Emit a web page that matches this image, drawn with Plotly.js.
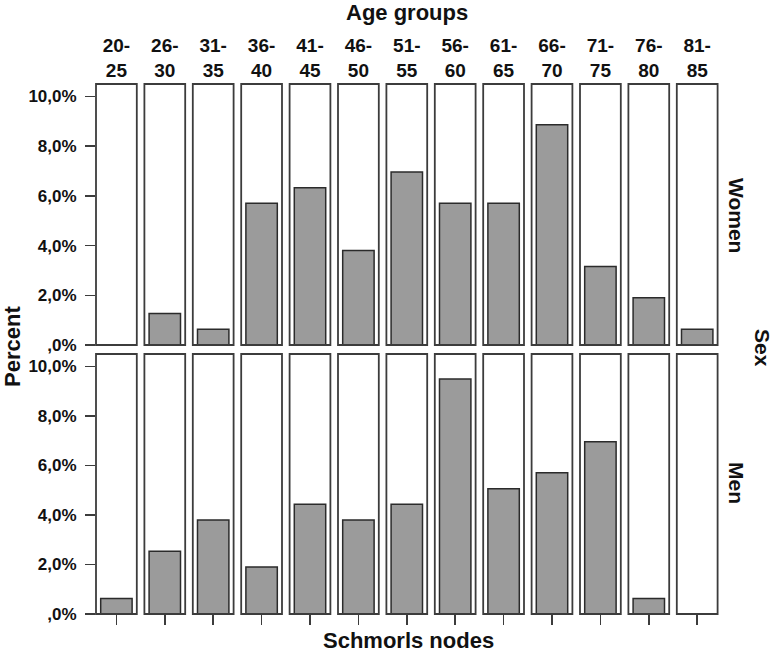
<!DOCTYPE html>
<html>
<head>
<meta charset="utf-8">
<script src="https://cdn.plot.ly/plotly-3.0.1.min.js"></script>
<style>html,body{margin:0;padding:0;background:#fff;}#chart{width:776px;height:654px;}</style>
</head>
<body>
<div id="chart"></div>
<script>
// ---- data ----
const ageGroups = ['20-25','26-30','31-35','36-40','41-45','46-50','51-55','56-60','61-65','66-70','71-75','76-80','81-85'];
const womenPct = [0, 1.27, 0.63, 5.70, 6.33, 3.80, 6.96, 5.70, 5.70, 8.86, 3.16, 1.90, 0.63];
const menPct   = [0.63, 2.53, 3.80, 1.90, 4.43, 3.80, 4.43, 9.49, 5.06, 5.70, 6.96, 0.63, 0];
const rowNames = ['Women', 'Men'];
const yTickVals = [0, 2, 4, 6, 8, 10];
const yTickText = [',0%', '2,0%', '4,0%', '6,0%', '8,0%', '10,0%'];

// ---- layout helpers ----
const W = 776, H = 654;
const M = {l: 96, r: 58, t: 84, b: 40};
const PW = W - M.l - M.r, PH = H - M.t - M.b;
const pitch = 48.4 / PW, panelW = 40.8 / PW;
const py = p => (H - M.b - p) / PH;           // pixel y -> paper y
const px = p => (p - M.l) / PW;               // pixel x -> paper x
const topDomain = [py(345), 1];
const botDomain = [0, py(354)];

const FONT = 'Liberation Sans, Arial, sans-serif';
const BAR_FILL = '#9b9b9b', BAR_LINE = '#2b2b2b', FRAME = '#3c3c3c';

const rows = [womenPct, menPct];
const traces = [];
const layout = {
  width: W, height: H,
  margin: M,
  paper_bgcolor: '#fff', plot_bgcolor: '#fff',
  showlegend: false,
  bargap: 0.23,
  font: {family: FONT, color: '#111', size: 15, weight: 'bold'},
  shapes: [], annotations: []
};

rows.forEach((vals, r) => {
  const yName = r === 0 ? 'y' : 'y2';
  const yKey = r === 0 ? 'yaxis' : 'yaxis2';
  ageGroups.forEach((age, i) => {
    const n = r * 13 + i + 1;
    const xName = n === 1 ? 'x' : 'x' + n;
    const xKey = n === 1 ? 'xaxis' : 'xaxis' + n;
    const label = age.replace('-', '-<br>');
    traces.push({
      type: 'bar', x: [label], y: [vals[i]],
      xaxis: xName, yaxis: yName,
      marker: {color: BAR_FILL, line: {color: BAR_LINE, width: 1.5}},
      hoverinfo: 'skip'
    });
    const d0 = i * pitch;
    layout[xKey] = {
      domain: [d0, d0 + panelW],
      anchor: yName,
      type: 'category',
      range: [-0.5, 0.5],
      showgrid: false, zeroline: false, showline: false,
      fixedrange: true,
      side: r === 0 ? 'top' : 'bottom',
      showticklabels: r === 0,
      ticks: r === 0 ? '' : 'outside',
      ticklen: 10, tickwidth: 1.5, tickcolor: FRAME,
      ticklabelstandoff: 2,
      tickfont: {family: FONT, size: 19, color: '#111', weight: 'bold'}
    };
    layout.shapes.push({
      type: 'rect', xref: xName + ' domain', yref: yName + ' domain',
      x0: 0, x1: 1, y0: 0, y1: 1,
      line: {color: FRAME, width: 1.8}, layer: 'above'
    });
  });
  layout[yKey] = {
    domain: r === 0 ? topDomain : botDomain,
    anchor: r === 0 ? 'x' : 'x14',
    range: [0, 10.5],
    tickvals: yTickVals, ticktext: yTickText,
    ticks: 'outside', ticklen: 10, tickwidth: 1.5, tickcolor: FRAME,
    ticklabelstandoff: 5,
    showgrid: false, zeroline: false, showline: false, fixedrange: true,
    tickfont: {family: FONT, size: 17, color: '#111', weight: 'bold'}
  };
  layout.annotations.push({
    text: rowNames[r], xref: 'paper', yref: 'paper',
    x: px(736), y: r === 0 ? py(215) : py(483),
    xanchor: 'center', yanchor: 'middle', textangle: 90, showarrow: false,
    font: {family: FONT, size: 21, color: '#111', weight: 'bold'}
  });
});

layout.annotations.push(
  {text: 'Age groups', xref: 'paper', yref: 'paper', x: px(407), y: py(13),
   xanchor: 'center', yanchor: 'middle', showarrow: false,
   font: {family: FONT, size: 22, color: '#111', weight: 'bold'}},
  {text: 'Schmorls nodes', xref: 'paper', yref: 'paper', x: px(408), y: py(640),
   xanchor: 'center', yanchor: 'middle', showarrow: false,
   font: {family: FONT, size: 22, color: '#111', weight: 'bold'}},
  {text: 'Percent', xref: 'paper', yref: 'paper', x: px(12), y: py(347),
   xanchor: 'center', yanchor: 'middle', textangle: -90, showarrow: false,
   font: {family: FONT, size: 22, color: '#111', weight: 'bold'}},
  {text: 'Sex', xref: 'paper', yref: 'paper', x: px(763), y: py(348),
   xanchor: 'center', yanchor: 'middle', textangle: 90, showarrow: false,
   font: {family: FONT, size: 21, color: '#111', weight: 'bold'}}
);

Plotly.newPlot('chart', traces, layout, {displayModeBar: false, staticPlot: true});
</script>
</body>
</html>
